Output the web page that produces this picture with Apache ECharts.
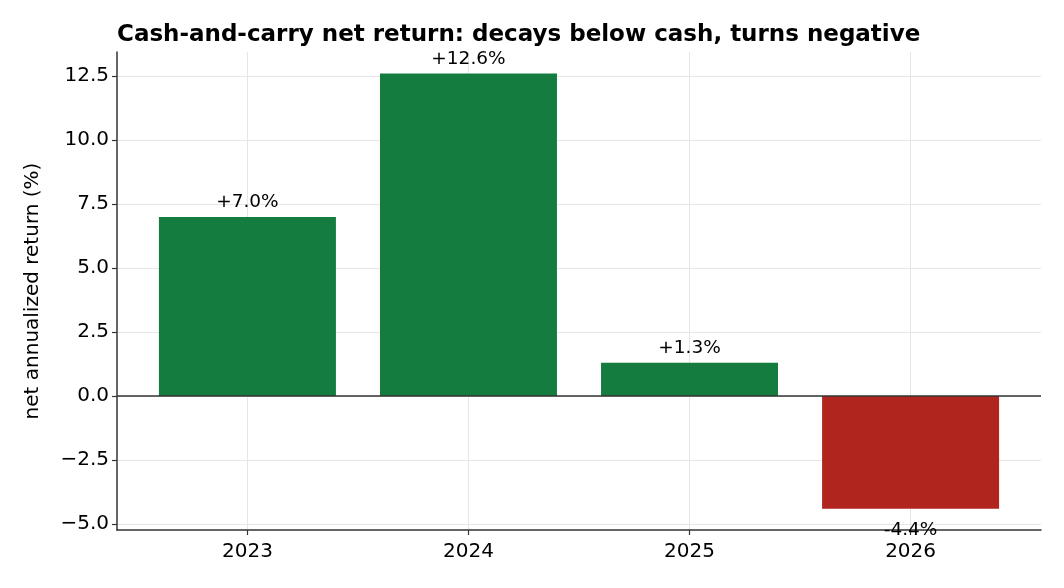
<!DOCTYPE html>
<html>
<head>
<meta charset="utf-8">
<script src="https://cdn.jsdelivr.net/npm/echarts@6/dist/echarts.min.js"></script>
<style>
	html, body { margin: 0; padding: 0; background: #fff; }
	#chart { width: 1064px; height: 588px; }
</style>
</head>
<body>
<div id="chart"></div>
<script>
// data
let years = ['2023', '2024', '2025', '2026'];
let netReturn = [7.0, 12.6, 1.3, -4.4];
let yTicks = [-5, -2.5, 0, 2.5, 5, 7.5, 10, 12.5];
let xTicks = [0, 1, 2, 3];

(function() {
	let myChart = echarts.init(document.getElementById('chart'));

	let font = 'DejaVu Sans';
	let green = '#147c3e';
	let red = '#b0261f';

	let barData = netReturn.map(function(v, i) {
		return {
			value: [i, v],
			itemStyle: { color: v >= 0 ? green : red },
			label: {
				position: v >= 0 ? 'top' : 'bottom',
				distance: v >= 0 ? 5 : 12
			}
		};
	});

	let option = {
		animation: false,
		textStyle: { fontFamily: font },
		title: {
			text: 'Cash-and-carry net return: decays below cash, turns negative',
			left: 112,
			top: 19,
			textStyle: {
				fontFamily: font,
				fontSize: 23,
				fontWeight: 'bold',
				color: '#000'
			}
		},
		grid: {
			left: 117,
			right: 23,
			top: 52,
			bottom: 58
		},
		xAxis: {
			type: 'value',
			min: -0.59,
			max: 3.59,
			axisLine: {
				onZero: false,
				lineStyle: { color: '#333', width: 1.5 }
			},
			axisTick: {
				show: true,
				customValues: xTicks,
				length: 5,
				lineStyle: { color: '#333', width: 1.2 }
			},
			axisLabel: {
				customValues: xTicks,
				color: '#000',
				fontSize: 20,
				margin: 12,
				formatter: function(v) {
					return years[Math.round(v)];
				}
			},
			splitLine: {
				show: true,
				lineStyle: { color: '#e6e6e6', width: 1 }
			}
		},
		yAxis: {
			type: 'value',
			min: -5.23,
			max: 13.44,
			name: 'net annualized return (%)',
			nameLocation: 'middle',
			nameGap: 74,
			nameTextStyle: {
				fontFamily: font,
				fontSize: 20,
				color: '#000'
			},
			axisLine: {
				show: true,
				onZero: false,
				lineStyle: { color: '#333', width: 1.5 }
			},
			axisTick: {
				show: true,
				customValues: yTicks,
				length: 5,
				lineStyle: { color: '#333', width: 1.2 }
			},
			axisLabel: {
				customValues: yTicks,
				color: '#000',
				fontSize: 20,
				margin: 8,
				formatter: function(v) {
					return v.toFixed(1).replace('-', '\u2212');
				}
			},
			splitLine: {
				show: true,
				lineStyle: { color: '#e6e6e6', width: 1 }
			}
		},
		series: [{
			type: 'bar',
			barWidth: 177,
			data: barData,
			label: {
				show: true,
				color: '#000',
				fontSize: 18.5,
				fontFamily: font,
				formatter: function(p) {
					let v = p.value[1];
					return (v >= 0 ? '+' : '') + v.toFixed(1) + '%';
				}
			},
			markLine: {
				silent: true,
				symbol: 'none',
				label: { show: false },
				lineStyle: { color: '#333', width: 1.5, type: 'solid' },
				data: [{ yAxis: 0 }]
			}
		}]
	};

	myChart.setOption(option);

	window.addEventListener('resize', function() {
		myChart.resize();
	});
})();
</script>
</body>
</html>
